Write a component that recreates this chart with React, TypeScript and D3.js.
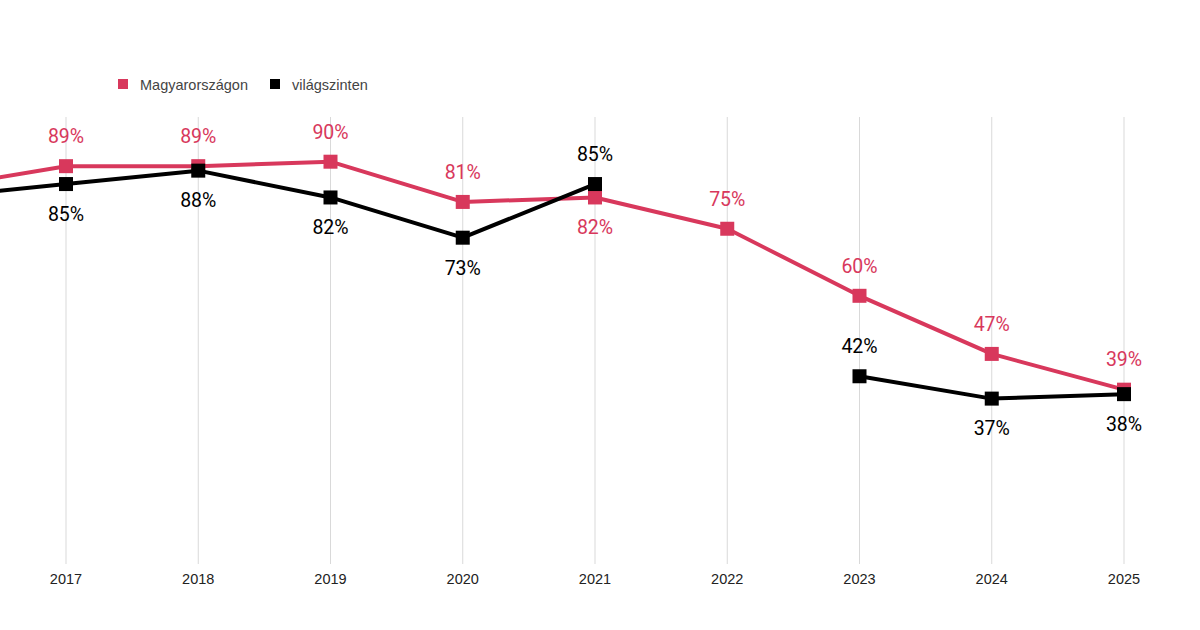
import { useEffect, useRef } from "react";
import * as d3 from "d3";

const years = [2016, 2017, 2018, 2019, 2020, 2021, 2022, 2023, 2024, 2025];
const hungary = [84, 89, 89, 90, 81, 82, 75, 60, 47, 39];
const world: (number | null)[] = [82, 85, 88, 82, 73, 85, null, 42, 37, 38];
// label above (-1) or below (1) the point
const hungaryLabelSide = [-1, -1, -1, -1, -1, 1, -1, -1, -1, -1];
const worldLabelSide = [1, 1, 1, 1, 1, -1, 1, -1, 1, 1];
const tickYears = [2017, 2018, 2019, 2020, 2021, 2022, 2023, 2024, 2025];
const seriesNames = ["Magyarországon", "világszinten"];

const RED = "#d8385c";
const BLACK = "#000000";

const width = 1200;
const height = 630;

export default function App() {
  const ref = useRef<SVGSVGElement>(null);

  useEffect(() => {
    if (!ref.current) return;
    const svg = d3.select(ref.current);
    svg.selectAll("*").remove();

    const x = d3.scaleLinear().domain([2017, 2025]).range([66, 1124]);
    const y = d3.scaleLinear().domain([0, 100]).range([564, 117]);

    svg.append("rect").attr("width", width).attr("height", height).attr("fill", "#fff");

    // Vertical gridlines
    svg
      .append("g")
      .selectAll("line")
      .data(tickYears)
      .join("line")
      .attr("x1", (d) => x(d))
      .attr("x2", (d) => x(d))
      .attr("y1", y(100))
      .attr("y2", y(0))
      .attr("stroke", "#d9d9d9")
      .attr("stroke-width", 1);

    // Year labels
    svg
      .append("g")
      .selectAll("text")
      .data(tickYears)
      .join("text")
      .attr("x", (d) => x(d))
      .attr("y", 584)
      .attr("text-anchor", "middle")
      .attr("font-family", "Liberation Sans, Arial, sans-serif")
      .attr("font-size", 14.5)
      .attr("fill", "#222")
      .text((d) => d);

    // Legend
    const legend = svg.append("g").attr("font-family", "Liberation Sans, Arial, sans-serif").attr("font-size", 14.5);
    const legendX = [118, 270];
    [RED, BLACK].forEach((c, i) => {
      legend.append("rect").attr("x", legendX[i]).attr("y", 79).attr("width", 10).attr("height", 10).attr("fill", c);
      legend
        .append("text")
        .attr("x", legendX[i] + 22)
        .attr("y", 89.5)
        .attr("fill", "#444")
        .text(seriesNames[i]);
    });

    const drawSeries = (values: (number | null)[], color: string, sides: number[]) => {
      const pts = years.map((yr, i) => ({ yr, v: values[i], side: sides[i] }));
      const line = d3
        .line<{ yr: number; v: number | null }>()
        .defined((d) => d.v != null)
        .x((d) => x(d.yr))
        .y((d) => y(d.v as number));
      svg
        .append("path")
        .attr("d", line(pts))
        .attr("fill", "none")
        .attr("stroke", color)
        .attr("stroke-width", 4)
        .attr("stroke-linejoin", "round");
      const valid = pts.filter((d) => d.v != null);
      svg
        .append("g")
        .selectAll("rect")
        .data(valid)
        .join("rect")
        .attr("x", (d) => x(d.yr) - 7)
        .attr("y", (d) => y(d.v as number) - 7)
        .attr("width", 14)
        .attr("height", 14)
        .attr("fill", color);
      // only label points that fall inside the frame
      svg
        .append("g")
        .selectAll("text")
        .data(valid.filter((d) => x(d.yr) > 0))
        .join("text")
        .attr("x", (d) => x(d.yr))
        .attr("y", (d) => y(d.v as number) + d.side * 30)
        .attr("dy", "0.35em")
        .attr("text-anchor", "middle")
        .attr("font-family", "Roboto, sans-serif")
        .attr("font-size", 19.5)
        .attr("fill", color)
        .text((d) => `${d.v}%`);
    };

    drawSeries(hungary, RED, hungaryLabelSide);
    drawSeries(world, BLACK, worldLabelSide);
  }, []);

  return (
    <div style={{ position: "fixed", left: 0, top: 0 }}>
      <svg ref={ref} width={width} height={height} style={{ display: "block" }} />
    </div>
  );
}
